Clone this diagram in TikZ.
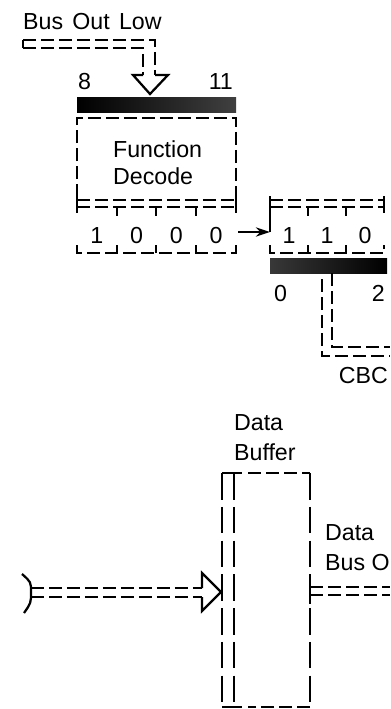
\documentclass[tikz,border=0pt]{standalone}
\usepackage{fontspec}
\setmainfont{Liberation Sans}
\usetikzlibrary{arrows.meta}
\tikzset{
  bus/.style={line width=1.6pt, dash pattern=on 9pt off 3.8pt},
  longbus/.style={line width=1.6pt, dash pattern=on 19pt off 5pt},
  lbl/.style={anchor=base west, inner sep=0pt},
  bit/.style={anchor=base, inner sep=0pt},
}
\begin{document}
\begin{tikzpicture}[x=0.025cm, y=-0.025cm, line width=1.6pt, font=\fontsize{16.5}{19}\selectfont]
  \useasboundingbox (0,0) rectangle (390,709);
  \clip (0,0) rectangle (390,709);

  \node[lbl] (buslow) at (22,30) {Bus\hspace{2pt} Out\hspace{2pt} Low};
  \node[lbl] (msb) at (77,90) {8};
  \node[lbl, anchor=base east] (lsb) at (234,90) {11};
  \node[lbl] (func) at (112,157) {Function};
  \node[lbl] (dec) at (112,185) {Decode};
  \node[lbl] (cbczero) at (273,301) {0};
  \node[lbl, anchor=base east] (cbctwo) at (386,301) {2};
  \node[lbl, anchor=base east] (cbc) at (389,383) {CBC};
  \node[lbl] (dbufa) at (233,430) {Data};
  \node[lbl] (dbufb) at (233,460) {Buffer};
  \node[lbl] (dboa) at (324,540) {Data};
  \node[lbl] (dbob) at (324,570) {Bus O};

  % bus out low into bits 8-11
  \draw (23,40) -- (23,48);
  \draw[bus] (23,40) -- (155,40) -- (155,75);
  \draw[bus] (23,48) -- (143,48) -- (143,75);
  \draw[line join=miter] (143,75) -- (133,75) -- (150,94) -- (168,75) -- (155,75);
  \shade[left color=black, middle color=black, right color=black!75] (77,98) rectangle (236,113);

  % function decode
  \draw[bus] (77,197) -- (77,118) -- (236,118) -- (236,197);
  \draw (77,196) -- (77,213);
  \draw (236,196) -- (236,213);
  \draw[bus] (77,200) -- (236,200);
  \draw[bus] (77,207) -- (236,207);
  \draw[bus] (77,245) -- (77,253) -- (236,253) -- (236,245);
  \foreach \x in {117,156,196} {
    \draw (\x,207) -- (\x,216);
    \draw (\x,253) -- (\x,245);
  }
  \foreach \b [count=\i] in {1,0,0,0}
    \node[bit] (fdbit\i) at ({77+39.75*\i-19.875},243) {\b};

  \coordinate (fdout) at (238,232);
  \coordinate (cbcin) at (270,232);
  \draw[line width=1.8pt, -{Stealth[length=10pt,width=6.5pt]}] (fdout) -- (cbcin);

  % CBC
  \draw (270,196) -- (270,232);
  \draw (384,196) -- (384,213);
  \draw[bus] (270,200) -- (384,200);
  \draw[bus] (270,207) -- (384,207);
  \draw[bus] (270,245) -- (270,253) -- (384,253) -- (384,245);
  \foreach \x in {308,346} {
    \draw (\x,207) -- (\x,216);
    \draw (\x,253) -- (\x,245);
  }
  \foreach \b [count=\i] in {1,1,0}
    \node[bit] (cbcbit\i) at ({270+38*\i-19},243) {\b};
  \shade[left color=black!78, middle color=black!88, right color=black] (270,258) rectangle (387,273);
  \draw[bus] (332,273) -- (332,347) -- (390,347);
  \draw[bus] (322,279) -- (322,356) -- (390,356);

  % data buffer
  \draw (222,473) -- (242,473);
  \draw (222,707) -- (242,707);
  \draw[longbus] (222,473) -- (222,707);
  \draw[longbus] (234,473) -- (234,707);
  \draw[bus] (248,473) -- (310,473);
  \draw[longbus] (310,473) -- (310,707);
  \draw[bus] (310,707) -- (248,707);

  \draw (22,574) .. controls (31,582) .. (31,592) .. controls (31,603) .. (24,613);
  \draw[bus] (31,588) -- (202,588);
  \draw[bus] (31,597) -- (202,597);
  \draw[line join=miter] (202,588) -- (202,573) -- (221,592) -- (202,611) -- (202,597);

  \draw (310,580) -- (310,604);
  \draw[bus] (310,587) -- (390,587);
  \draw[bus] (310,595) -- (390,595);
\end{tikzpicture}
\end{document}
